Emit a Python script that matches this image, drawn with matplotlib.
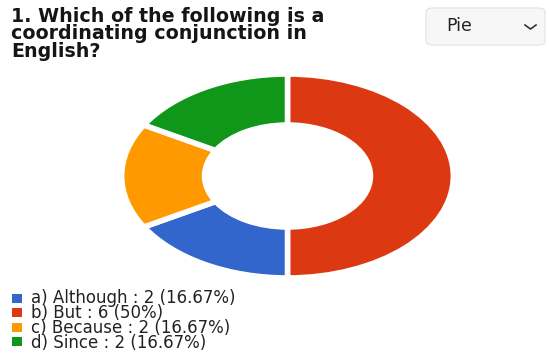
import matplotlib.pyplot as plt
from matplotlib.patches import FancyBboxPatch, Rectangle

# data
labels = ["a) Although", "b) But", "c) Because", "d) Since"]
counts = [2, 6, 2, 2]
percents = ["16.67%", "50%", "16.67%", "16.67%"]
colors = ["#3366cc", "#dc3912", "#ff9900", "#109618"]
# drawing order of the wedges, clockwise from 12 o'clock
draw_order = [1, 0, 2, 3]

title = "1. Which of the following is a\ncoordinating conjunction in\nEnglish?"

W, H = 549, 354
fig = plt.figure(figsize=(W / 100, H / 100), dpi=100)
fig.patch.set_facecolor("white")

# donut (stretched horizontally like the reference)
ax = fig.add_axes([120 / W, 1 - 279 / H, 335 / W, 206 / H])
ax.pie([counts[i] for i in draw_order],
       colors=[colors[i] for i in draw_order],
       startangle=90, counterclock=False, radius=1.0,
       wedgeprops=dict(width=0.5, edgecolor="white", linewidth=4))
ax.set_aspect("auto")
ax.set_xlim(-1.01, 1.01)
ax.set_ylim(-1.01, 1.01)
ax.axis("off")

# title
fig.text(11 / W, 1 - 7 / H, title, ha="left", va="top", fontsize=13.7,
         fontweight="bold", family="DejaVu Sans", color="#151515",
         linespacing=0.89)

# dropdown box
box = FancyBboxPatch((426 / W, 1 - 45 / H), 119 / W, 37 / H,
                     boxstyle="round,pad=0,rounding_size=0.012",
                     transform=fig.transFigure, facecolor="#f7f7f7",
                     edgecolor="#e2e2e2", linewidth=0.8)
fig.patches.append(box)
fig.text(446 / W, 1 - 26 / H, "Pie", ha="left", va="center", fontsize=12.5,
         family="DejaVu Sans", color="#222222")
fig.lines.append(plt.Line2D([525 / W, 530.5 / W, 536 / W],
                            [1 - 25 / H, 1 - 29 / H, 1 - 25 / H],
                            transform=fig.transFigure, color="#333333",
                            linewidth=1.2))

# legend: colour squares plus one multi-line text block
y0, dy = 298, 14.5
for i, col in enumerate(colors):
    yc = y0 + i * dy
    fig.patches.append(Rectangle((12 / W, 1 - (yc + 4.5) / H), 10 / W, 9 / H,
                                 transform=fig.transFigure, facecolor=col,
                                 edgecolor="none"))
legend_text = "\n".join(f"{lab} : {c} ({p})"
                        for lab, c, p in zip(labels, counts, percents))
fig.text(31 / W, 1 - (y0 + 1.5 * dy + 0.5) / H, legend_text, ha="left",
         va="center", fontsize=12, family="DejaVu Sans", color="#222222",
         linespacing=0.79)

fig.savefig("out.png", dpi=100)
